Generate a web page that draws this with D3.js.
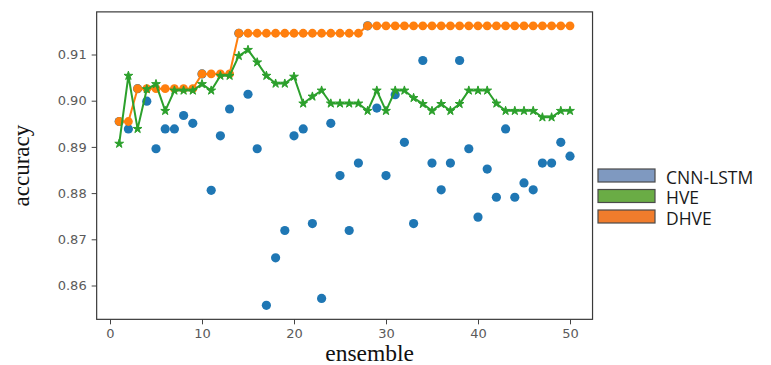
<!DOCTYPE html>
<html>
<head>
<meta charset="utf-8">
<script src="https://cdn.jsdelivr.net/npm/d3@7"></script>
<style>
    body { margin: 0; background: #fff; }
    #chart-area { width: 771px; height: 365px; }
    .tick text { font-family: "DejaVu Sans", sans-serif; font-size: 13px; fill: #5a5a5a; }
    .tick line { stroke: #444; }
    .axis-title { font-family: "Liberation Serif", "Times New Roman", serif; fill: #111; }
    .legend-label { font-family: "Open Sans", sans-serif; font-size: 17.5px; fill: #1a1a1a; }
</style>
</head>
<body>
<div id="chart-area"></div>
<script>

// ensemble size (x)
let ensembles = [1, 2, 3, 4, 5, 6, 7, 8, 9, 10, 11, 12, 13, 14, 15, 16, 17, 18, 19, 20,
    21, 22, 23, 24, 25, 26, 27, 28, 29, 30, 31, 32, 33, 34, 35, 36, 37, 38, 39, 40,
    41, 42, 43, 44, 45, 46, 47, 48, 49, 50];

// CNN-LSTM accuracy of every single model (scatter)
let cnnLstm = [0.8955, 0.8939, 0.9026, 0.8999, 0.8896, 0.8939, 0.8939, 0.8968, 0.8951, 0.9058,
    0.8806, 0.8924, 0.8982, 0.9146, 0.9014, 0.8896, 0.8557, 0.8660, 0.8719, 0.8924,
    0.8939, 0.8734, 0.8572, 0.8951, 0.8838, 0.8719, 0.8865, 0.9162, 0.8984, 0.8838,
    0.9013, 0.8910, 0.8734, 0.9087, 0.8865, 0.8807, 0.8865, 0.9087, 0.8896, 0.8748,
    0.8852, 0.8791, 0.8939, 0.8791, 0.8822, 0.8807, 0.8865, 0.8865, 0.8910, 0.8880];

// HVE accuracy
let hve = [0.8907, 0.9054, 0.8939, 0.9025, 0.9036, 0.8978, 0.9022, 0.9022, 0.9022, 0.9036,
    0.9022, 0.9054, 0.9054, 0.9097, 0.9110, 0.9083, 0.9054, 0.9037, 0.9037, 0.9052,
    0.8994, 0.9009, 0.9022, 0.8994, 0.8994, 0.8994, 0.8994, 0.8978, 0.9022, 0.8978,
    0.9022, 0.9022, 0.9006, 0.8993, 0.8978, 0.8993, 0.8978, 0.8993, 0.9022, 0.9022,
    0.9022, 0.8994, 0.8978, 0.8978, 0.8978, 0.8978, 0.8964, 0.8964, 0.8978, 0.8978];

// DHVE accuracy
let dhve = [0.8955, 0.8955, 0.9026, 0.9026, 0.9026, 0.9026, 0.9026, 0.9026, 0.9026, 0.9058,
    0.9058, 0.9058, 0.9058, 0.9146, 0.9146, 0.9146, 0.9146, 0.9146, 0.9146, 0.9146,
    0.9146, 0.9146, 0.9146, 0.9146, 0.9146, 0.9146, 0.9146, 0.9162, 0.9162, 0.9162,
    0.9162, 0.9162, 0.9162, 0.9162, 0.9162, 0.9162, 0.9162, 0.9162, 0.9162, 0.9162,
    0.9162, 0.9162, 0.9162, 0.9162, 0.9162, 0.9162, 0.9162, 0.9162, 0.9162, 0.9162];

let xTicks = [0, 10, 20, 30, 40, 50];
let yTicks = [0.86, 0.87, 0.88, 0.89, 0.90, 0.91];

let legendNames = ["CNN-LSTM", "HVE", "DHVE"];
let legendColors = ["#7f99c0", "#6aac45", "#f07c2c"];


class AccuracyVis {

    constructor(parentElement) {
        this.parentElement = parentElement;
        this.initVis();
    }

    initVis() {
        let vis = this;

        vis.width = 771;
        vis.height = 365;

        vis.svg = d3.select("#" + vis.parentElement).append("svg")
            .attr("width", vis.width)
            .attr("height", vis.height);

        // scales anchored on the tick positions, frame gets matplotlib style 5% margins
        vis.x = d3.scaleLinear().domain([0, 50]).range([110, 570]);
        vis.y = d3.scaleLinear().domain([0.86, 0.91]).range([285.5, 54.5]);

        let allY = cnnLstm.concat(hve, dhve);
        let yMin = d3.min(allY), yMax = d3.max(allY);
        let yPad = (yMax - yMin) * 0.05;
        let xPad = (d3.max(ensembles) - d3.min(ensembles)) * 0.05;
        vis.frame = {
            x0: vis.x(d3.min(ensembles) - xPad), x1: vis.x(d3.max(ensembles) + xPad),
            y0: vis.y(yMax + yPad), y1: vis.y(yMin - yPad)
        };

        vis.drawAxes();
        vis.drawMarks();
        vis.drawLegend();
    }

    drawAxes() {
        let vis = this;
        let f = vis.frame;

        let xAxis = d3.axisBottom(vis.x).tickValues(xTicks).tickSize(5).tickPadding(4);
        let yAxis = d3.axisLeft(vis.y).tickValues(yTicks).tickFormat(d3.format(".2f")).tickSize(5).tickPadding(5);

        vis.svg.append("g")
            .attr("class", "x-axis")
            .attr("transform", `translate(0, ${f.y1})`)
            .call(xAxis)
            .call(g => g.select(".domain").remove());

        vis.svg.append("g")
            .attr("class", "y-axis")
            .attr("transform", `translate(${f.x0}, 0)`)
            .call(yAxis)
            .call(g => g.select(".domain").remove());

        // frame
        vis.svg.append("rect")
            .attr("x", f.x0)
            .attr("y", f.y0)
            .attr("width", f.x1 - f.x0)
            .attr("height", f.y1 - f.y0)
            .attr("fill", "none")
            .attr("stroke", "#3a3a3a")
            .attr("stroke-width", 1.2);

        vis.svg.append("text")
            .attr("class", "axis-title")
            .attr("x", (f.x0 + f.x1) / 2 + 25)
            .attr("y", 361)
            .attr("text-anchor", "middle")
            .attr("font-size", 23.5)
            .text("ensemble");

        vis.svg.append("text")
            .attr("class", "axis-title")
            .attr("transform", `translate(29, ${(f.y0 + f.y1) / 2}) rotate(-90)`)
            .attr("text-anchor", "middle")
            .attr("font-size", 23)
            .text("accuracy");
    }

    drawMarks() {
        let vis = this;

        // single CNN-LSTM models
        vis.svg.append("g").selectAll("circle")
            .data(ensembles.map((e, i) => ({e: e, v: cnnLstm[i]})))
            .enter().append("circle")
            .attr("cx", d => vis.x(d.e))
            .attr("cy", d => vis.y(d.v))
            .attr("r", 4.6)
            .attr("fill", "#1f77b4");

        let line = d3.line()
            .x(d => vis.x(d.e))
            .y(d => vis.y(d.v));

        // DHVE
        let dhveData = ensembles.map((e, i) => ({e: e, v: dhve[i]}));
        vis.svg.append("path")
            .datum(dhveData)
            .attr("d", line)
            .attr("fill", "none")
            .attr("stroke", "#ff7f0e")
            .attr("stroke-width", 2);

        vis.svg.append("g").selectAll("circle")
            .data(dhveData)
            .enter().append("circle")
            .attr("cx", d => vis.x(d.e))
            .attr("cy", d => vis.y(d.v))
            .attr("r", 4.4)
            .attr("fill", "#ff7f0e");

        // HVE
        let hveData = ensembles.map((e, i) => ({e: e, v: hve[i]}));
        vis.svg.append("path")
            .datum(hveData)
            .attr("d", line)
            .attr("fill", "none")
            .attr("stroke", "#2ca02c")
            .attr("stroke-width", 2);

        vis.svg.append("g").selectAll("path")
            .data(hveData)
            .enter().append("path")
            .attr("d", d3.symbol().type(d3.symbolStar).size(24))
            .attr("transform", d => `translate(${vis.x(d.e)}, ${vis.y(d.v)})`)
            .attr("fill", "#2ca02c")
            .attr("stroke", "#2ca02c")
            .attr("stroke-width", 1);
    }

    drawLegend() {
        let vis = this;

        let legendY = d3.scalePoint().domain(legendNames).range([175.5, 216.5]);

        let items = vis.svg.append("g")
            .attr("class", "legend")
            .selectAll("g")
            .data(legendNames)
            .enter().append("g")
            .attr("transform", d => `translate(598, ${legendY(d)})`);

        items.append("rect")
            .attr("x", 0)
            .attr("y", -6.5)
            .attr("width", 57)
            .attr("height", 13)
            .attr("fill", (d, i) => legendColors[i])
            .attr("stroke", "#4a4a4a")
            .attr("stroke-width", 1.2);

        items.append("text")
            .attr("class", "legend-label")
            .attr("x", 68)
            .attr("y", 8)
            .text(d => d);
    }
}

new AccuracyVis("chart-area");

</script>
</body>
</html>
